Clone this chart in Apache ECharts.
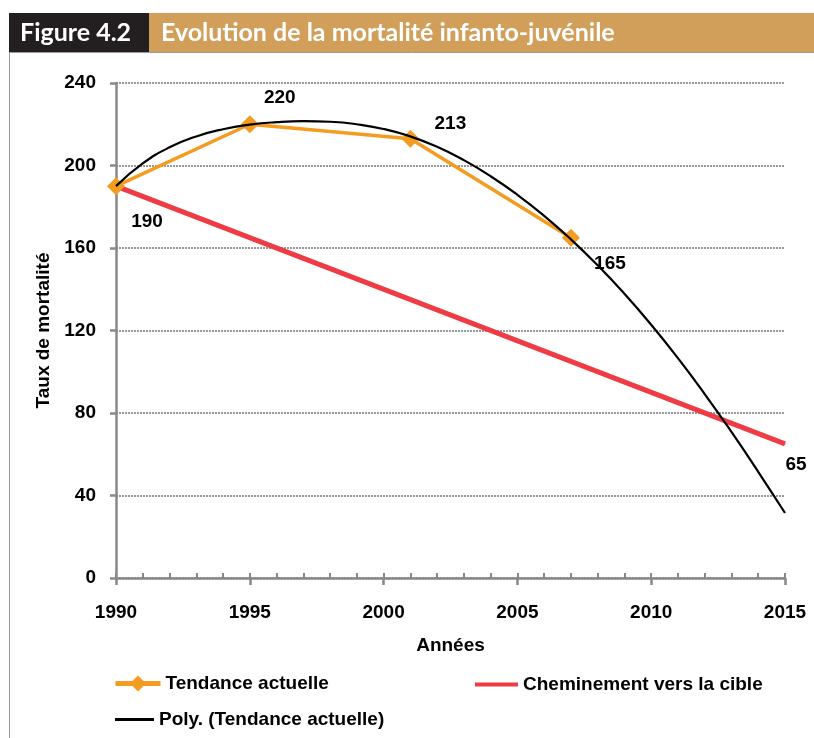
<!DOCTYPE html>
<html>
<head>
<meta charset="utf-8">
<script src="https://cdn.jsdelivr.net/npm/echarts@6/dist/echarts.min.js"></script>
<style>
html, body { margin: 0; padding: 0; background: #fff; }
#chart { width: 814px; height: 738px; }
</style>
</head>
<body>
<div id="chart"></div>
<script>
// Tendance actuelle (observed points)
var tendYears = [1990, 1995, 2001, 2007];
var tendValues = [190, 220, 213, 165];
// Cheminement vers la cible
var cibleYears = [1990, 2015];
var cibleValues = [190, 65];
// Poly. (Tendance actuelle), one point per year
var polyYears = [1990, 1991, 1992, 1993, 1994, 1995, 1996, 1997, 1998, 1999, 2000, 2001, 2002,
                 2003, 2004, 2005, 2006, 2007, 2008, 2009, 2010, 2011, 2012, 2013, 2014, 2015];
var polyValues = [190, 201, 208.8, 214.1, 217.6, 219.8, 221, 221.5, 221.2, 220, 217.7, 214.1, 209.1,
                  202.6, 194.8, 185.8, 175.6, 164.2, 151.6, 137.8, 122.8, 106.6, 89.2, 70.8, 51.5, 31.5];

var myChart = echarts.init(document.getElementById('chart'));

function pairs(xs, ys) {
    return xs.map(function (x, i) { return [x, ys[i]]; });
}

var font = 'Liberation Sans';
var tendOffsets = [[31, 36], [30, -26], [40, -15], [39, 26]];

var tendData = pairs(tendYears, tendValues).map(function (p, i) {
    return { value: p, label: { offset: tendOffsets[i] } };
});
var cibleData = pairs(cibleYears, cibleValues).map(function (p, i) {
    return i === cibleYears.length - 1
        ? { value: p, label: { show: true, offset: [11, 21] } }
        : { value: p };
});

var labelStyle = {
    position: 'inside',
    color: '#000',
    fontFamily: font,
    fontWeight: 'bold',
    fontSize: 19
};
var textBold = { fontFamily: font, fontWeight: 'bold', fontSize: 19, color: '#000' };

var option = {
    animation: false,
    backgroundColor: '#fff',
    graphic: [
        { type: 'rect', shape: { x: 9, y: 13, width: 140, height: 39 }, style: { fill: '#231F20' } },
        { type: 'rect', shape: { x: 149, y: 13, width: 665, height: 39 }, style: { fill: '#D29F5A' } },
        { type: 'text', x: 20, y: 33, style: { text: 'Figure 4.2', fill: '#fff', font: 'bold 25px Lato', verticalAlign: 'middle' } },
        { type: 'text', x: 161, y: 33, style: { text: 'Evolution de la mortalité infanto-juvénile', fill: '#fff', font: 'bold 25px Lato', verticalAlign: 'middle' } },
        { type: 'line', shape: { x1: 9.5, y1: 52, x2: 9.5, y2: 738 }, style: { stroke: '#999', lineWidth: 1 } },
        { type: 'line', shape: { x1: 9, y1: 52.5, x2: 814, y2: 52.5 }, style: { stroke: '#999', lineWidth: 1 } }
    ],
    grid: { left: 116, right: 29, top: 83, bottom: 160 },
    legend: [
        { data: ['Tendance actuelle'], left: 113, top: 674, padding: 0, itemWidth: 45, itemHeight: 20,
          lineStyle: { width: 5 }, textStyle: textBold },
        { data: [{ name: 'Cheminement vers la cible', icon: 'rect' }], left: 475, top: 675, padding: 0,
          itemWidth: 43, itemHeight: 4, textStyle: textBold },
        { data: [{ name: 'Poly. (Tendance actuelle)', icon: 'rect' }], left: 115, top: 710, padding: 0,
          itemWidth: 39, itemHeight: 3, textStyle: textBold }
    ],
    xAxis: [
        {
            type: 'value', min: 1990, max: 2015, interval: 5,
            name: 'Années', nameLocation: 'middle', nameGap: 58,
            nameTextStyle: textBold,
            axisLine: { lineStyle: { color: '#888', width: 2.5 } },
            axisTick: { show: true, length: 7, lineStyle: { color: '#888', width: 2.5 } },
            axisLabel: Object.assign({ margin: 25, formatter: function (v) { return String(v); } }, textBold),
            splitLine: { show: false }
        },
        {
            type: 'value', min: 1990, max: 2015, interval: 1, position: 'bottom',
            axisLine: { show: false },
            axisTick: { show: true, inside: true, length: 5, lineStyle: { color: '#888', width: 2 } },
            axisLabel: { show: false },
            splitLine: { show: false }
        }
    ],
    yAxis: {
        type: 'value', min: 0, max: 240, interval: 40,
        name: 'Taux de mortalité', nameLocation: 'middle', nameGap: 60,
        nameTextStyle: textBold,
        axisLine: { show: true, lineStyle: { color: '#888', width: 2.5 } },
        axisTick: { show: true, length: 6, lineStyle: { color: '#888', width: 2.5 } },
        axisLabel: Object.assign({ margin: 20 }, textBold),
        splitLine: { show: true, lineStyle: { color: '#999', width: 2, type: [2, 1] } }
    },
    series: [
        {
            name: 'Cheminement vers la cible',
            type: 'line',
            data: cibleData,
            symbol: 'circle',
            symbolSize: 1,
            color: '#EE3B44',
            itemStyle: { color: '#EE3B44' },
            lineStyle: { width: 5, color: '#EE3B44' },
            label: Object.assign({ show: false }, labelStyle),
            z: 2
        },
        {
            name: 'Tendance actuelle',
            type: 'line',
            data: tendData,
            symbol: 'diamond',
            symbolSize: 18,
            color: '#F39C1F',
            itemStyle: { color: '#F39C1F' },
            lineStyle: { width: 3.5, color: '#F39C1F' },
            label: Object.assign({ show: true }, labelStyle),
            z: 3
        },
        {
            name: 'Poly. (Tendance actuelle)',
            type: 'line',
            data: pairs(polyYears, polyValues),
            symbol: 'none',
            smooth: true,
            color: '#000',
            lineStyle: { width: 2.2, color: '#000' },
            z: 4
        }
    ]
};
myChart.setOption(option);
</script>
</body>
</html>
